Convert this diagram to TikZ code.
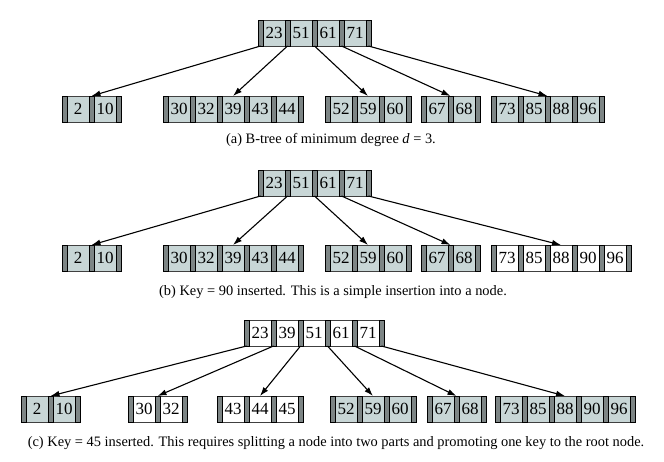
\documentclass[tikz,border=0pt]{standalone}
\usepackage{fontspec}
\setmainfont{Liberation Serif}
\usetikzlibrary{arrows.meta}
\definecolor{keyfill}{RGB}{200,214,214}
\definecolor{barfill}{RGB}{125,133,133}
\tikzset{
  cellbase/.style={inner sep=0pt, outer sep=0pt, anchor=north, minimum height=26pt},
  keycell/.style={cellbase, minimum width=22pt, draw=black!75, line width=0.6pt,
    font=\fontsize{17}{17}\selectfont},
  oldkey/.style={fill=keyfill},
  newkey/.style={fill=white},
  ptrbar/.style={cellbase, minimum width=5pt, fill=barfill, draw=black, line width=0.8pt},
  link/.style={-{Latex[length=9pt,width=6pt]}, line width=1.1pt},
  caption/.style={font=\fontsize{14.4}{16}\selectfont, anchor=base}
}
% B-tree node: name, key count, left x, top y, key style, keys
\newcommand{\btnode}[6]{%
  \foreach \k [count=\i] in {#6} {
    \node[keycell,#5] (#1-k\i) at ({#3+\i*27-11},#4) {\k};
  }
  \node[ptrbar] (#1-p0) at ({#3+2.5},#4) {};
  \foreach \k [count=\i] in {#6} {
    \node[ptrbar] (#1-p\i) at ({#3+\i*27+2.5},#4) {};
  }
  \coordinate (#1) at ({#3+(#2*27+5)/2},#4);
}
\begin{document}
\begin{tikzpicture}[x=1pt,y=-1pt]
\useasboundingbox (0,0) rectangle (664,462);

% (a) initial tree
\btnode{ra}{4}{258}{20}{oldkey}{23,51,61,71}
\btnode{a1}{2}{62}{96}{oldkey}{2,10}
\btnode{a2}{5}{163}{96}{oldkey}{30,32,39,43,44}
\btnode{a3}{3}{325}{96}{oldkey}{52,59,60}
\btnode{a4}{2}{421}{96}{oldkey}{67,68}
\btnode{a5}{4}{491}{96}{oldkey}{73,85,88,96}
\draw[link] (ra-p0.south) -- (a1);
\draw[link] (ra-p1.south) -- (a2);
\draw[link] (ra-p2.south) -- (a3);
\draw[link] (ra-p3.south) -- (a4);
\draw[link] (ra-p4.south) -- (a5);
\node[caption] (capa) at (331,144) {(a) B-tree of minimum degree \textit{d} = 3.};

% (b) after inserting 90
\btnode{rb}{4}{258}{170}{oldkey}{23,51,61,71}
\btnode{b1}{2}{62}{245}{oldkey}{2,10}
\btnode{b2}{5}{163}{245}{oldkey}{30,32,39,43,44}
\btnode{b3}{3}{325}{245}{oldkey}{52,59,60}
\btnode{b4}{2}{421}{245}{oldkey}{67,68}
\btnode{b5}{5}{491}{245}{newkey}{73,85,88,90,96}
\draw[link] (rb-p0.south) -- (b1);
\draw[link] (rb-p1.south) -- (b2);
\draw[link] (rb-p2.south) -- (b3);
\draw[link] (rb-p3.south) -- (b4);
\draw[link] (rb-p4.south) -- (b5);
\node[caption] (capb) at (333,296) {(b) Key = 90 inserted. This is a simple insertion into a node.};

% (c) after inserting 45
\btnode{rc}{5}{244}{320}{newkey}{23,39,51,61,71}
\btnode{c1}{2}{21}{396}{oldkey}{2,10}
\btnode{c2}{2}{128}{396}{newkey}{30,32}
\btnode{c3}{3}{217}{396}{newkey}{43,44,45}
\btnode{c4}{3}{330}{396}{oldkey}{52,59,60}
\btnode{c5}{2}{427}{396}{oldkey}{67,68}
\btnode{c6}{5}{495}{396}{oldkey}{73,85,88,90,96}
\draw[link] (rc-p0.south) -- (c1);
\draw[link] (rc-p1.south) -- (c2);
\draw[link] (rc-p2.south) -- (c3);
\draw[link] (rc-p3.south) -- (c4);
\draw[link] (rc-p4.south) -- (c5);
\draw[link] (rc-p5.south) -- (c6);
\node[caption] (capc) at (336,446) {(c) Key = 45 inserted. This requires splitting a node into two parts and promoting one key to the root node.};
\end{tikzpicture}
\end{document}
